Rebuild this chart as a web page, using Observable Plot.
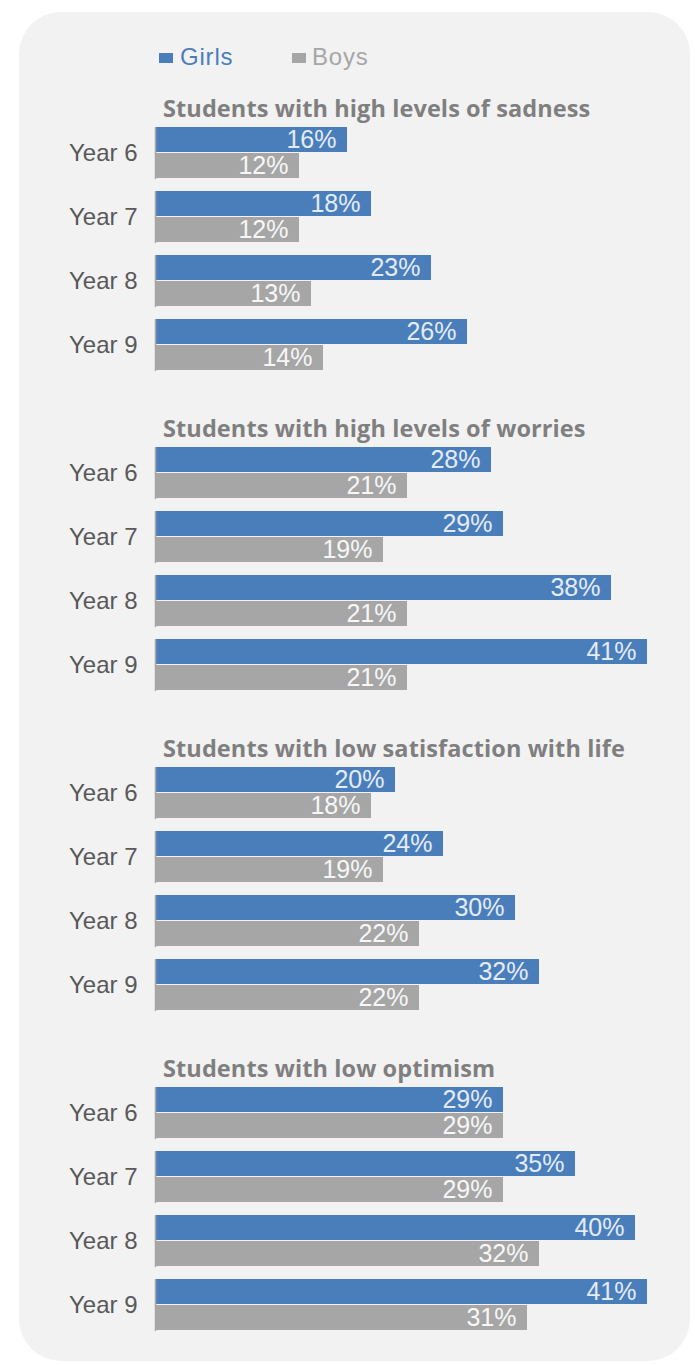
<!DOCTYPE html>
<html>
<head>
<meta charset="utf-8">
<script src="https://cdn.jsdelivr.net/npm/d3@7"></script>
<script src="https://cdn.jsdelivr.net/npm/@observablehq/plot@0.6"></script>
<style>
  html, body { margin: 0; padding: 0; background: #ffffff; }
  #page { position: relative; width: 695px; height: 1365px; overflow: hidden; }
  #panel { position: absolute; left: 19px; top: 12px; width: 671px; height: 1349px;
           background: #f2f2f2; border-radius: 42px; }
  .lg { position: absolute; font-family: "Liberation Sans", Arial, sans-serif; font-size: 24px;
        line-height: 30px; top: 42px; white-space: nowrap; letter-spacing: 0.8px; }
  .sw { position: absolute; width: 14px; height: 10px; top: 53px; }
  .title { position: absolute; left: 163px; font-family: "Open Sans", sans-serif; font-weight: 700;
           font-size: 23.5px; line-height: 30px; color: #7f7f7f; letter-spacing: 0.1px; white-space: nowrap; }
  .plot { position: absolute; left: 0; }
</style>
</head>
<body>
<div id="page">
  <div id="panel"></div>
  <div class="sw" style="left:159px;background:#4a7ebb"></div>
  <div class="lg" style="left:180px;color:#4a7ebb">Girls</div>
  <div class="sw" style="left:292px;background:#a6a6a6"></div>
  <div class="lg" style="left:312px;color:#a6a6a6">Boys</div>
</div>
<script>
const sections = [
  "Students with high levels of sadness",
  "Students with high levels of worries",
  "Students with low satisfaction with life",
  "Students with low optimism"
];
const years = ["Year 6", "Year 7", "Year 8", "Year 9"];
const genders = ["Girls", "Boys"];
const girls = [
  [16, 18, 23, 26],
  [28, 29, 38, 41],
  [20, 24, 30, 32],
  [29, 35, 40, 41]
];
const boys = [
  [12, 12, 13, 14],
  [21, 19, 21, 21],
  [18, 19, 22, 22],
  [29, 29, 32, 31]
];
const colors = ["#4a7ebb", "#a6a6a6"];

const page = document.getElementById("page");
const sectionTops = [127, 447, 767, 1087];

sections.forEach((title, s) => {
  const data = [];
  years.forEach((yr, i) => {
    data.push({year: yr, gender: "Girls", value: girls[s][i]});
    data.push({year: yr, gender: "Boys", value: boys[s][i]});
  });

  const t = document.createElement("div");
  t.className = "title";
  t.style.top = (sectionTops[s] - 34) + "px";
  t.textContent = title;
  page.appendChild(t);

  const chart = Plot.plot({
    width: 695,
    height: 244,
    marginLeft: 155,
    marginRight: 48,
    marginTop: 0,
    marginBottom: 0,
    style: {background: "transparent", fontFamily: "'Liberation Sans', Arial, sans-serif", overflow: "visible"},
    x: {domain: [0, 41], axis: null},
    y: {domain: genders, axis: null, paddingInner: 0.03, paddingOuter: 0},
    fy: {domain: years, paddingInner: 0.1875, paddingOuter: 0, label: null},
    color: {domain: genders, range: colors},
    marks: [
      Plot.axisFy({anchor: "left", tickSize: 0, tickPadding: 18, fontSize: 24, color: "#595959", label: null}),
      Plot.barX(data, {fy: "year", y: "gender", x: "value", fill: "gender"}),
      Plot.text(data, {fy: "year", y: "gender", x: "value", text: d => d.value + "%",
        textAnchor: "end", dx: -11, dy: 0, fill: d => d.gender === "Girls" ? "#e4ecf7" : "#f7f7f7",
        fontSize: 25}),
      Plot.ruleX([0], {stroke: "#a6a6a6", strokeWidth: 1.5})
    ]
  });
  chart.classList.add("plot");
  chart.style.top = sectionTops[s] + "px";
  chart.style.position = "absolute";
  page.appendChild(chart);
});
</script>
</body>
</html>
